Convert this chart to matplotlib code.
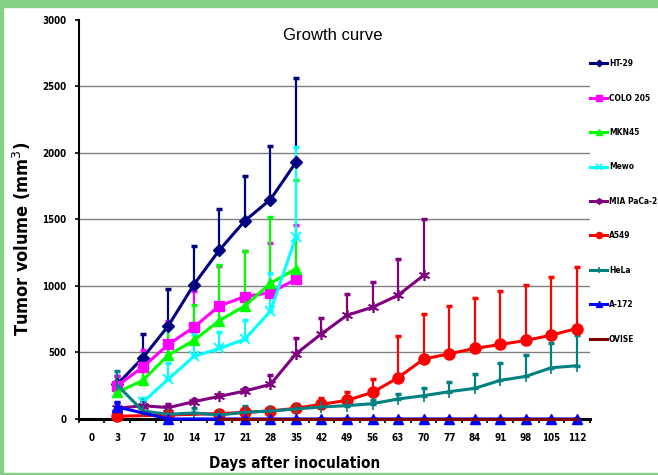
import numpy as np
import matplotlib.pyplot as plt
import matplotlib.patches as mpatches

# categories on the x axis (Excel-style category axis)
days = [0, 3, 7, 10, 14, 17, 21, 28, 35, 42, 49, 56, 63, 70, 77, 84, 91, 98, 105, 112]

early_days = [3, 7, 10, 14, 17, 21, 28, 35]
ht29 = [260, 460, 700, 1010, 1270, 1490, 1650, 1930]
ht29_err = [60, 180, 280, 290, 310, 340, 400, 630]
colo205 = [250, 390, 560, 690, 850, 920, 950, 1050]
colo205_err = [70, 130, 180, 270, 300, 340, 370, 410]
mkn45 = [200, 290, 480, 590, 740, 850, 1020, 1130]
mkn45_err = [60, 70, 220, 270, 420, 410, 500, 670]

mewo_days = [7, 10, 14, 17, 21, 28, 35]
mewo = [125, 300, 470, 530, 600, 810, 1370]
mewo_err = [30, 120, 170, 125, 145, 285, 675]

mia_days = [3, 7, 10, 14, 17, 21, 28, 35, 42, 49, 56, 63, 70]
mia = [80, 100, 85, 130, 170, 210, 260, 490, 640, 780, 840, 930, 1080]
mia_err = [40, 30, 25, 20, 20, 20, 70, 120, 120, 160, 190, 270, 420]

late_days = [3, 10, 17, 21, 28, 35, 42, 49, 56, 63, 70, 77, 84, 91, 98, 105, 112]
a549 = [20, 30, 40, 50, 60, 80, 110, 140, 200, 310, 450, 490, 530, 560, 590, 630, 680]
a549_err = [20, 20, 20, 30, 20, 30, 50, 60, 100, 310, 340, 360, 380, 400, 420, 440, 460]
a172 = [90, 0, 0, 0, 0, 0, 0, 0, 0, 0, 0, 0, 0, 0, 0, 0, 0]
a172_err = [35, 0, 0, 0, 0, 0, 0, 0, 0, 0, 0, 0, 0, 0, 0, 0, 0]

hela_days = [3, 7, 10, 14, 17, 21, 28, 35, 42, 49, 56, 63, 70, 77, 84, 91, 98, 105, 112]
hela = [255, 60, 35, 45, 30, 50, 60, 75, 90, 100, 115, 150, 175, 205, 230, 290, 320, 385, 400]
hela_err = [105, 80, 25, 35, 20, 50, 20, 25, 20, 30, 25, 40, 60, 70, 110, 130, 160, 185, 230]

ovise_days = [17, 21, 28, 35, 42, 49, 56, 63, 70, 77, 84, 91, 98, 105, 112]
ovise = [0] * len(ovise_days)

narrow = ['Liberation Sans Narrow', 'DejaVu Sans']

fig = plt.figure(figsize=(6.58, 4.75), dpi=100)
ax = fig.add_axes([0.120, 0.118, 0.776, 0.840])

def pos(d):
    return [days.index(v) for v in d]

def draw(d, y, err, color, marker, ms, label, mew=1.0):
    x = pos(d)
    if err is not None:
        lower = np.zeros(len(err))
        ax.errorbar(x, y, yerr=[lower, err], fmt='none', ecolor=color,
                    elinewidth=1.6, capsize=2.5, capthick=2.5, zorder=2)
    ax.plot(x, y, color=color, lw=2.2, marker=marker, ms=ms, mec=color,
            mfc=color, mew=mew, label=label, zorder=3, clip_on=False)

draw(early_days, ht29, ht29_err, '#000080', 'D', 6, 'HT-29')
draw(early_days, colo205, colo205_err, '#FF00FF', 's', 7.5, 'COLO 205')
draw(early_days, mkn45, mkn45_err, '#00FF00', '^', 7.5, 'MKN45')
draw(mewo_days, mewo, mewo_err, '#00FFFF', 'x', 7, 'Mewo', mew=1.3)
draw(mia_days, mia, mia_err, '#800080', (6, 2, 0), 8, 'MIA PaCa-2', mew=1.2)
draw(late_days, a549, a549_err, '#FF0000', 'o', 8, 'A549')
draw(hela_days, hela, hela_err, '#008080', '|', 8, 'HeLa', mew=1.2)
draw(late_days, a172, a172_err, '#0000FF', '^', 7.5, 'A-172')
draw(ovise_days, ovise, None, '#800000', None, 0, 'OVISE')

ax.set_xlim(-0.5, len(days) - 0.5)
ax.set_ylim(0, 3000)
ax.set_xticks(range(len(days)))
ax.set_xticklabels([str(d) for d in days])
ax.set_xticks(np.arange(-0.5, len(days), 1.0), minor=True)
ax.tick_params(axis='x', which='major', length=0, pad=10)
ax.tick_params(axis='x', which='minor', length=3, width=1.2, direction='out')
ax.set_yticks(range(0, 3001, 500))
ax.tick_params(axis='y', length=3, width=1.2, pad=6)
for lab in ax.get_xticklabels() + ax.get_yticklabels():
    lab.set_family(narrow)
    lab.set_fontweight('bold')
    lab.set_fontstretch('condensed')
    lab.set_fontsize(7)

for yv in range(500, 3000, 500):
    ax.axhline(yv, color='#808080', lw=1.0, zorder=0)

ax.spines['top'].set_visible(False)
ax.spines['right'].set_visible(False)
ax.spines['left'].set_linewidth(1.5)
ax.spines['bottom'].set_linewidth(2.2)
ax.spines['bottom'].set_zorder(1)

ax.set_ylabel('Tumor volume (mm$^3$)', family=narrow, fontstretch='condensed',
              fontweight='bold', fontsize=13)
ax.yaxis.set_label_coords(-0.09, 0.451)
ax.set_xlabel('Days after inoculation', family=narrow, fontstretch='condensed',
              fontweight='bold', fontsize=11)
ax.xaxis.set_label_coords(0.423, -0.093)
fig.text(0.505, 0.925, 'Growth curve', family=['Liberation Sans', 'DejaVu Sans'],
         fontsize=12, ha='center', va='center')

ax.legend(loc='upper left', bbox_to_anchor=(0.995, 0.91), frameon=False,
          prop={'family': narrow, 'weight': 'bold', 'size': 6, 'stretch': 'condensed'},
          labelspacing=3.05, handlelength=2.0, handletextpad=0.25,
          markerscale=0.55, borderaxespad=0)

# green frame around the picture
green = '#85D085'
fig.patches.append(mpatches.Rectangle((0, 1 - 7 / 475), 1, 7 / 475, transform=fig.transFigure,
                                      color=green, zorder=0))
fig.patches.append(mpatches.Rectangle((0, 0), 2.5 / 658, 1, transform=fig.transFigure,
                                      color=green, zorder=0))
fig.patches.append(mpatches.Rectangle((0, 0), 1, 2.5 / 475, transform=fig.transFigure,
                                      color=green, zorder=0))

fig.savefig('out.png', dpi=100)
